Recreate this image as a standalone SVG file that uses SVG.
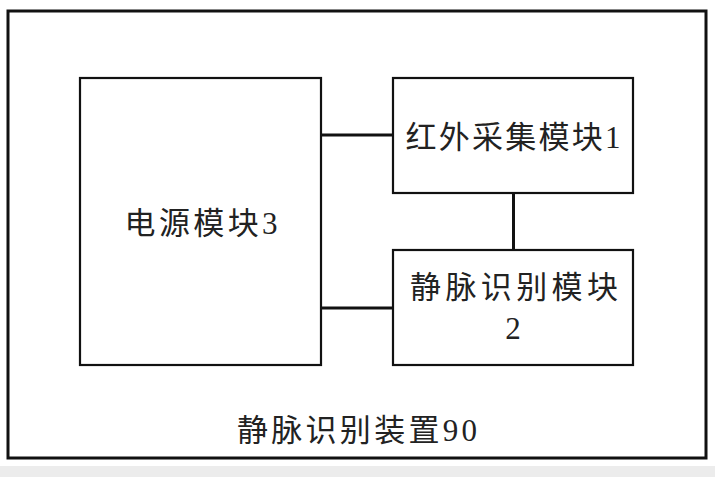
<svg xmlns="http://www.w3.org/2000/svg" width="715" height="477" viewBox="0 0 715 477">
<style>
.box{fill:#fff;stroke:#111;stroke-width:2.2}
.conn{stroke:#111;stroke-width:3;fill:none}
.t{font-family:"Liberation Serif","Noto Sans CJK SC",serif;font-size:31px;fill:#222;text-anchor:middle;dominant-baseline:central}
</style>
<rect x="0" y="0" width="715" height="477" fill="#fff"/>
<rect x="0" y="466" width="715" height="11" fill="#ececec"/>
<g id="device">
<rect x="8" y="11" width="698" height="447" fill="#fff" stroke="#111" stroke-width="3"/>
<text class="t" x="357" y="430" textLength="240" lengthAdjust="spacing">静脉识别装置90</text>
</g>
<g id="power">
<rect class="box" x="80" y="78" width="241" height="287"/>
<text class="t" x="201" y="223" textLength="153" lengthAdjust="spacing">电源模块3</text>
</g>
<g id="ir">
<rect class="box" x="393" y="78" width="240" height="115"/>
<text class="t" x="513" y="137" textLength="215" lengthAdjust="spacing">红外采集模块1</text>
</g>
<g id="vein">
<rect class="box" x="393" y="250" width="240" height="115"/>
<text class="t" x="514" y="287" textLength="208" lengthAdjust="spacing">静脉识别模块</text>
<text class="t" x="513" y="328">2</text>
</g>
<g id="connectors">
<line class="conn" x1="321" y1="135" x2="393" y2="135"/>
<line class="conn" x1="321" y1="308" x2="393" y2="308"/>
<line class="conn" x1="513.5" y1="193" x2="513.5" y2="250"/>
</g>
</svg>
